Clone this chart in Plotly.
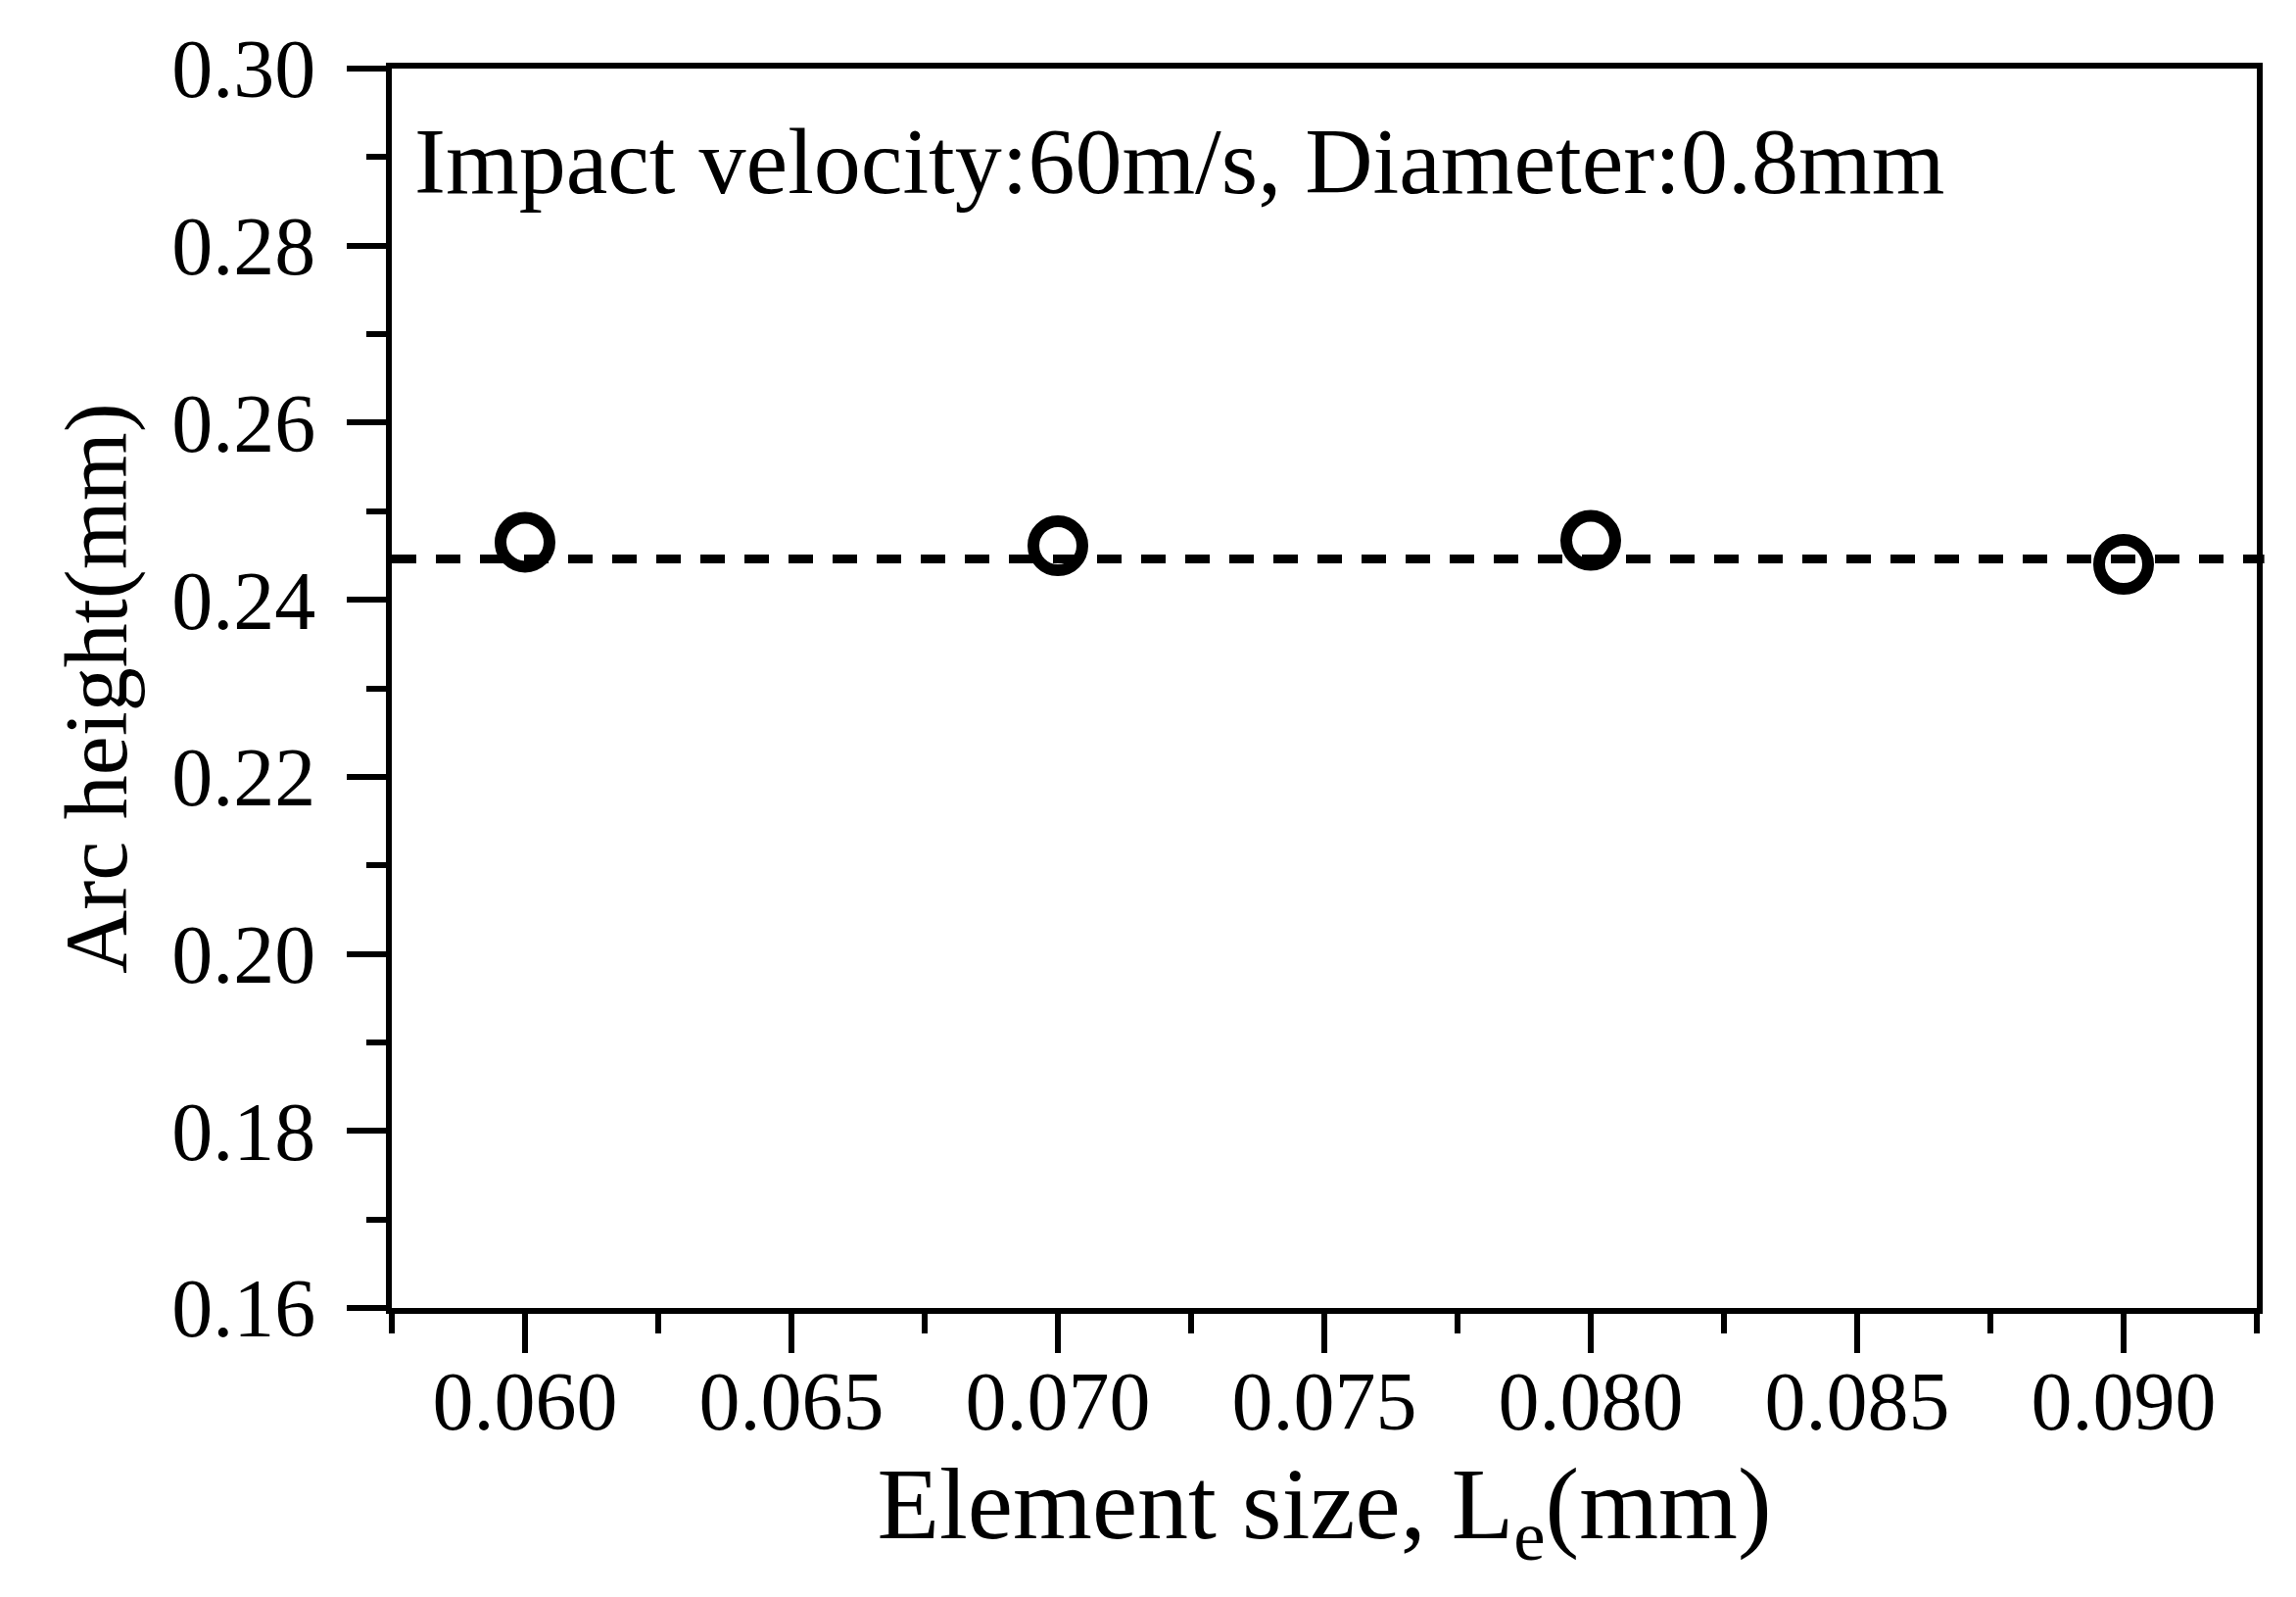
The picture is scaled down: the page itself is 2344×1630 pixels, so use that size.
import plotly.graph_objects as go

# Data
element_size = [0.060, 0.070, 0.080, 0.090]
arc_height = [0.2465, 0.2461, 0.2467, 0.2440]
ref_level = 0.2446

x_range = [0.0575, 0.0925]
y_range = [0.16, 0.30]

FONT = "Liberation Serif"

fig = go.Figure()

fig.add_shape(
    type="line", xref="paper", yref="y",
    x0=0, x1=1.004, y0=ref_level, y1=ref_level,
    line=dict(color="black", width=9, dash="25px,20px"),
    layer="above",
)

fig.add_trace(go.Scatter(
    x=element_size, y=arc_height, mode="markers",
    marker=dict(symbol="circle-open", size=50, color="black",
                line=dict(width=12, color="black")),
    showlegend=False, cliponaxis=False,
))

fig.add_annotation(
    text="Impact velocity:60m/s, Diameter:0.8mm",
    xref="paper", yref="paper", x=0.011, y=0.925,
    xanchor="left", yanchor="middle", showarrow=False,
    font=dict(family=FONT, size=96, color="black"),
)

axis_common = dict(
    showgrid=False, zeroline=False, showline=True, linecolor="black",
    linewidth=6, mirror=True, ticks="outside", ticklen=40, tickwidth=6,
    tickcolor="black",
)

fig.update_xaxes(
    range=x_range, tick0=0.06, dtick=0.005, tickformat=".3f",
    tickfont=dict(family=FONT, size=84, color="black"),
    ticklabelstandoff=-23,
    minor=dict(ticks="outside", ticklen=20, tickwidth=6, dtick=0.0025,
               tick0=0.0575, tickcolor="black"),
    title=dict(text="Element size, L<sub>e</sub>(mm)",
               font=dict(family=FONT, size=104, color="black"), standoff=10),
    **axis_common,
)
fig.update_yaxes(
    range=y_range, tick0=0.16, dtick=0.02, tickformat=".2f",
    tickfont=dict(family=FONT, size=84, color="black"),
    ticklabelstandoff=15,
    minor=dict(ticks="outside", ticklen=20, tickwidth=6, dtick=0.01,
               tick0=0.16, tickcolor="black"),
    title=dict(text="Arc height(mm)",
               font=dict(family=FONT, size=90, color="black"), standoff=18),
    **axis_common,
)

# The page body has an 8px margin; size the figure to fit inside it.
fig.update_layout(
    width=2328, height=1614,
    margin=dict(l=392, r=32, t=62, b=287),
    paper_bgcolor="white", plot_bgcolor="white",
    showlegend=False,
)

fig.write_html("out.html")
